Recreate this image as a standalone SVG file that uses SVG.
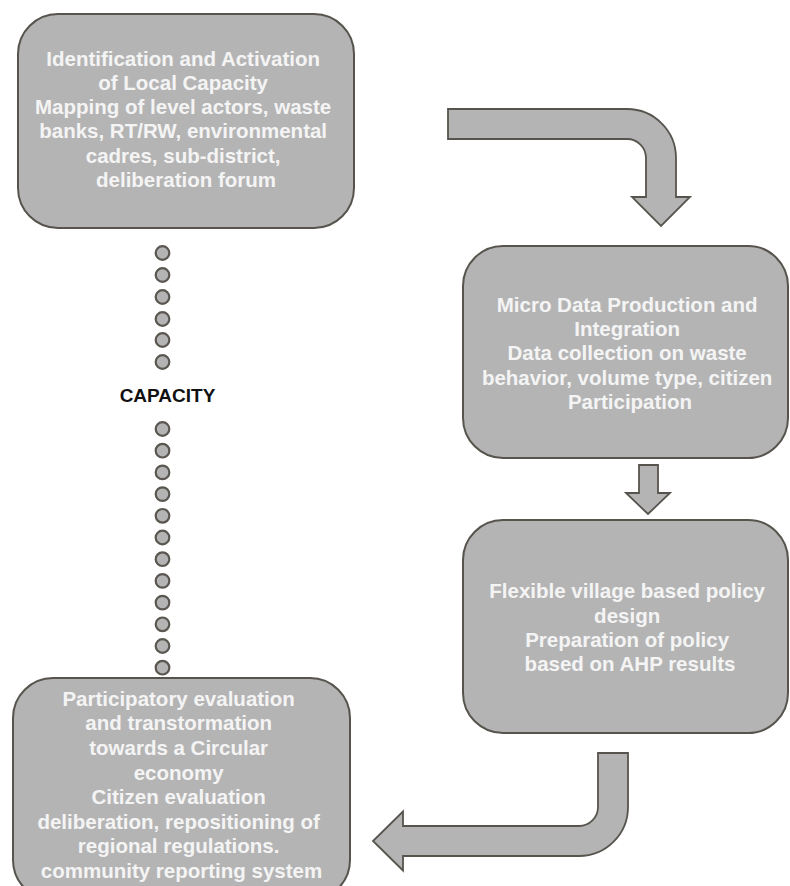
<svg xmlns="http://www.w3.org/2000/svg" width="790" height="886" viewBox="0 0 790 886">
<defs>
<style>
.box{fill:#b4b4b4;stroke:#57544d;stroke-width:2}
.arrow{fill:#b4b4b4;stroke:#57544d;stroke-width:1.8;stroke-linejoin:miter}
.dot{fill:#b4b4b4;stroke:#5a5750;stroke-width:2.2}
.t{font-family:"Liberation Sans",Arial,sans-serif;font-weight:bold;font-size:20.5px;fill:#f4f4f4;text-anchor:middle}
.lbl{font-family:"Liberation Sans",Arial,sans-serif;font-weight:bold;font-size:19px;fill:#111;text-anchor:middle}
</style>
<circle id="d" r="6.8" class="dot"/>
</defs>
<rect width="790" height="886" fill="#fff"/>

<g id="connectors">
<path id="arrow-1-2" class="arrow" d="M448,109 H627 A49,49 0 0 1 676,158 V197 H690 L661,226 L632,197 H646 V158 A19,19 0 0 0 627,139 H448 Z"/>
<path id="arrow-2-3" class="arrow" d="M639,465 H658 V493 H670 L648,514 L626,493 H639 Z"/>
<path id="arrow-3-4" class="arrow" d="M598,753 H628 V807 A49,49 0 0 1 579,856 H403 V870.5 L373,841 L403,811.5 V826 H579 A19,19 0 0 0 598,807 Z"/>
<g id="capacity-link">
<use href="#d" x="162.5" y="253"/>
<use href="#d" x="162.5" y="275"/>
<use href="#d" x="162.5" y="297"/>
<use href="#d" x="162.5" y="319"/>
<use href="#d" x="162.5" y="340"/>
<use href="#d" x="162.5" y="362"/>
<text class="lbl" x="167.5" y="402">CAPACITY</text>
<use href="#d" x="162.5" y="429"/>
<use href="#d" x="162.5" y="450.7"/>
<use href="#d" x="162.5" y="472.4"/>
<use href="#d" x="162.5" y="494.1"/>
<use href="#d" x="162.5" y="515.8"/>
<use href="#d" x="162.5" y="537.5"/>
<use href="#d" x="162.5" y="559.2"/>
<use href="#d" x="162.5" y="580.9"/>
<use href="#d" x="162.5" y="602.6"/>
<use href="#d" x="162.5" y="624.3"/>
<use href="#d" x="162.5" y="646"/>
<use href="#d" x="162.5" y="667.7"/>
</g>
</g>

<g id="node-1">
<rect class="box" x="18" y="14" width="336" height="214" rx="40" ry="40"/>
<text class="t" x="186">
<tspan x="186" y="66">Identification and Activation</tspan>
<tspan x="186" y="90">of Local Capacity</tspan>
<tspan x="186" y="114">Mapping of level actors, waste</tspan>
<tspan x="186" y="138">banks, RT/RW, environmental</tspan>
<tspan x="186" y="163">cadres, sub-district,</tspan>
<tspan x="186" y="187">deliberation forum</tspan>
</text>
</g>

<g id="node-2">
<rect class="box" x="463" y="246" width="325" height="212" rx="40" ry="40"/>
<text class="t" x="630">
<tspan x="630" y="312">Micro Data Production and</tspan>
<tspan x="630" y="336">Integration</tspan>
<tspan x="630" y="360">Data collection on waste</tspan>
<tspan x="630" y="385">behavior, volume type, citizen</tspan>
<tspan x="630" y="409">Participation</tspan>
</text>
</g>

<g id="node-3">
<rect class="box" x="463" y="520" width="325" height="213" rx="40" ry="40"/>
<text class="t" x="630">
<tspan x="630" y="598">Flexible village based policy</tspan>
<tspan x="630" y="622.5">design</tspan>
<tspan x="630" y="646.5">Preparation of policy</tspan>
<tspan x="630" y="671">based on AHP results</tspan>
</text>
</g>

<g id="node-4">
<rect class="box" x="13" y="678" width="337" height="222" rx="40" ry="40"/>
<text class="t" x="181.5">
<tspan x="181.5" y="705.7">Participatory evaluation</tspan>
<tspan x="181.5" y="730.3">and transtormation</tspan>
<tspan x="181.5" y="754.9">towards a Circular</tspan>
<tspan x="181.5" y="779.5">economy</tspan>
<tspan x="181.5" y="804.1">Citizen evaluation</tspan>
<tspan x="181.5" y="828.7">deliberation, repositioning of</tspan>
<tspan x="181.5" y="853.3">regional regulations.</tspan>
<tspan x="181.5" y="877.9">community reporting system</tspan>
</text>
</g>
</svg>
